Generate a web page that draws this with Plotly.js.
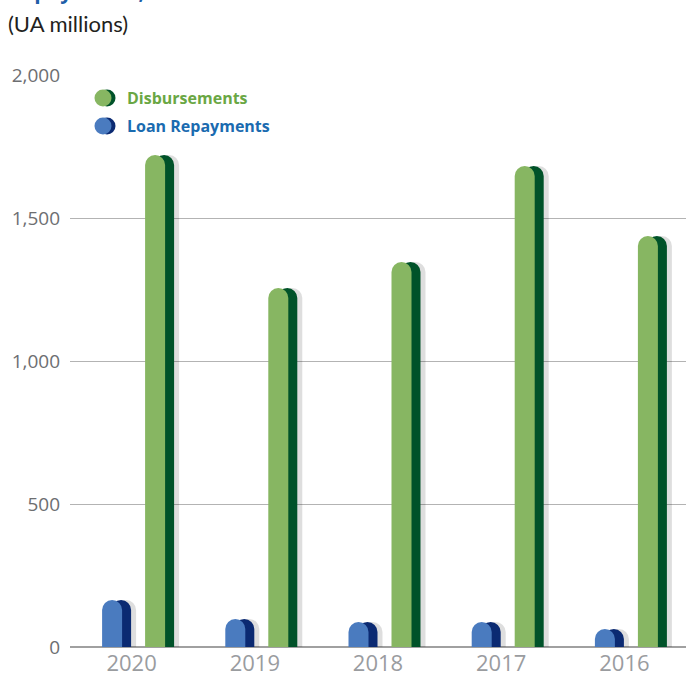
<!DOCTYPE html>
<html>
<head>
<meta charset="utf-8">
<script src="https://cdn.plot.ly/plotly-3.0.1.min.js"></script>
<style>html,body{margin:0;padding:0;background:#fff}#chart{width:686px;height:678px}</style>
</head>
<body>
<div id="chart"></div>
<script>
const years = ["2020", "2019", "2018", "2017", "2016"];
const disbursements = [1720, 1255, 1346, 1682, 1437];
const repayments = [164, 98, 87, 87, 63];
const yTicks = [0, 500, 1000, 1500, 2000];
const yTickText = ["0", "500", "1,000", "1,500", "2,000"];

const W = 686, H = 678;
const M = {l: 70, r: 0, t: 75, b: 31};
const pw = W - M.l - M.r, ph = H - M.t - M.b;
const catPx = pw / years.length;
const u = px => px / catPx;          // px -> category units
const px2x = px => (px - M.l) / pw;  // paper coords
const px2y = py => (H - M.b - py) / ph;

const barW = u(20);
const shift = u(9);
const blueOff = u(-29.5);
const greenOff = u(13.5);

function bar(name, y, color, offset, width) {
  return {
    type: 'bar', x: years, y: y, name: name,
    marker: {color: color, cornerradius: '50%', line: {width: 0}},
    offset: offset, width: width, showlegend: false,
    hoverinfo: 'x+y'
  };
}

const traces = [
  bar('shadow', repayments, 'rgba(0,0,0,0.13)', blueOff + shift + u(5), barW),
  bar('shadow', disbursements, 'rgba(0,0,0,0.13)', greenOff + shift + u(5), barW),
  bar('Loan Repayments (back)', repayments, '#0b2a72', blueOff + shift, barW),
  bar('Disbursements (back)', disbursements, '#005229', greenOff + shift, barW),
  bar('Loan Repayments', repayments, '#4a7bbf', blueOff, barW),
  bar('Disbursements', disbursements, '#87b662', greenOff, barW)
];

const shapes = [];
function legendDot(cx, cy, front, back) {
  const r = 8.5;
  shapes.push({type: 'circle', xref: 'paper', yref: 'paper', layer: 'above',
    x0: px2x(cx + 4 - r), x1: px2x(cx + 4 + r), y0: px2y(cy + r), y1: px2y(cy - r),
    fillcolor: back, line: {width: 0}});
  shapes.push({type: 'circle', xref: 'paper', yref: 'paper', layer: 'above',
    x0: px2x(cx - r), x1: px2x(cx + r), y0: px2y(cy + r), y1: px2y(cy - r),
    fillcolor: front, line: {width: 0}});
}
legendDot(103, 98, '#87b662', '#005229');
legendDot(103, 126, '#4a7bbf', '#0b2a72');

const annotations = [
  {text: '(UA millions)', xref: 'paper', yref: 'paper', x: px2x(6), y: px2y(23),
   xanchor: 'left', yanchor: 'middle', showarrow: false,
   font: {family: 'Lato, sans-serif', size: 22, color: '#231f20'}},
  {text: '<b>Repayments, 2016–2020</b>', xref: 'paper', yref: 'paper', x: px2x(6), y: px2y(-9),
   xanchor: 'left', yanchor: 'middle', showarrow: false,
   font: {family: 'Open Sans, sans-serif', size: 21, color: '#1f5fa8'}},
  {text: '<b>Disbursements</b>', xref: 'paper', yref: 'paper', x: px2x(125), y: px2y(98),
   xanchor: 'left', yanchor: 'middle', showarrow: false,
   font: {family: 'Open Sans, sans-serif', size: 16, color: '#6aa744'}},
  {text: '<b>Loan Repayments</b>', xref: 'paper', yref: 'paper', x: px2x(125), y: px2y(126),
   xanchor: 'left', yanchor: 'middle', showarrow: false,
   font: {family: 'Open Sans, sans-serif', size: 16, color: '#1a6bb0'}}
];

const layout = {
  width: W, height: H,
  margin: M,
  paper_bgcolor: '#fff', plot_bgcolor: '#fff',
  barmode: 'overlay',
  showlegend: false,
  xaxis: {
    type: 'category', range: [-0.5, years.length - 0.5],
    showgrid: false, zeroline: false, showline: false, ticks: '',
    tickfont: {family: 'Open Sans, sans-serif', size: 22, color: '#9a9c9f'},
    ticklabelstandoff: 1, fixedrange: true
  },
  yaxis: {
    range: [0, 2000], tickvals: yTicks, ticktext: yTickText,
    showgrid: true, gridcolor: '#b3b3b3', gridwidth: 1,
    zeroline: true, zerolinecolor: '#a0a0a0', zerolinewidth: 1.5,
    showline: false, ticks: '',
    tickfont: {family: 'Open Sans, sans-serif', size: 19, color: '#6d6e71'},
    ticklabelstandoff: 9, fixedrange: true
  },
  shapes: shapes,
  annotations: annotations
};

Plotly.newPlot('chart', traces, layout, {displayModeBar: false, staticPlot: true});
</script>
</body>
</html>
